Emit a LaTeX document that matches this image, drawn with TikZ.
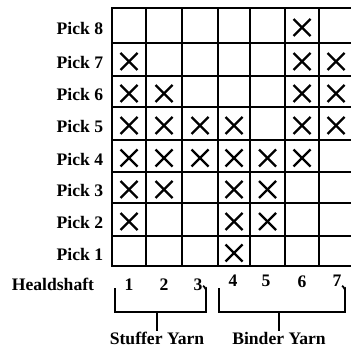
\documentclass[tikz,border=0pt]{standalone}
\usepackage{fontspec}
\setmainfont{Liberation Serif}
\begin{document}
\begin{tikzpicture}[x=1pt, y=-1pt, line width=1.8pt, line cap=rect,
  lbl/.style={font=\fontsize{17.6}{19}\selectfont\bfseries, inner sep=0pt},
  xmark/.style={line width=2.2pt, line cap=butt}]
  \clip (0,0) rectangle (351,350);
  % draft grid: 7 healdshafts x 8 picks
  \foreach \x in {112,146,182,218,250,285,319,353}
    \draw (\x,8) -- (\x,266);
  \foreach \y in {8,43,76,107,140,172,203,236,266}
    \draw (112,\y) -- (353,\y);

  % lifting marks (shaft/pick)
  \foreach \c/\r in {6/8, 1/7,6/7,7/7, 1/6,2/6,6/6,7/6,
                     1/5,2/5,3/5,4/5,6/5,7/5, 1/4,2/4,3/4,4/4,5/4,6/4,
                     1/3,2/3,4/3,5/3, 1/2,4/2,5/2, 4/1} {
    \pgfmathsetmacro\cx{{129,164,200,234,267.5,302,336}[\c-1]}
    \pgfmathsetmacro\cy{{251,219.5,187.5,156,123.5,91.5,59.5,25.5}[\r-1]+2}
    \draw[xmark] (\cx-8.5,\cy-8.5) -- (\cx+8.5,\cy+8.5);
    \draw[xmark] (\cx-8.5,\cy+8.5) -- (\cx+8.5,\cy-8.5);
  }

  % pick labels
  \foreach \r/\y in {8/25.5,7/59.5,6/91.5,5/123.5,4/156,3/187.5,2/219.5,1/251}
    \node[lbl, anchor=east] (p\r) at (104,\y+3) {Pick \r};

  % healdshaft numbers
  \node[lbl, anchor=west] (heald) at (11,284) {Healdshaft};
  \foreach \n/\x/\y in {1/129/285,2/164/285,3/198/285,4/233/281,5/266/281,6/302/282,7/337/281}
    \node[lbl] (h\n) at (\x,\y) {\n};

  % yarn groups
  \node[lbl] (stuffer) at (157,338) {Stuffer Yarn};
  \node[lbl] (binder) at (279,338) {Binder Yarn};
  \coordinate (s1) at (115,288);
  \coordinate (s2) at (206,312);
  \coordinate (b1) at (219,288);
  \coordinate (b2) at (345,312);
  \draw[line cap=butt] (s1) |- (s2) -- ++(0,-23) to[out=-90,in=0] ++(-3,-3);
  \draw[line cap=butt] (b1) |- (b2) -- ++(0,-23) to[out=-90,in=0] ++(-3,-3);
  \draw[line cap=butt] (stuffer.north |- s2) -- (stuffer.north);
  \draw[line cap=butt] (binder.north |- b2) -- (binder.north);
\end{tikzpicture}
\end{document}
